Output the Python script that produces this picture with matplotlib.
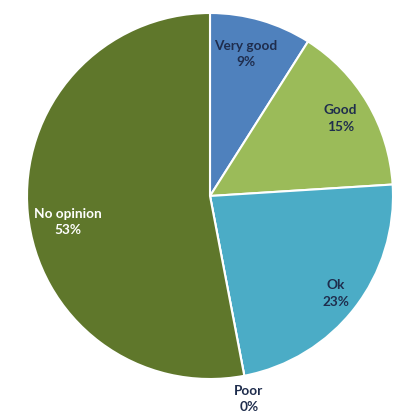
import matplotlib
matplotlib.use("Agg")
import matplotlib.pyplot as plt
import numpy as np

# Survey answers, clockwise from 12 o'clock
labels = ["Very good", "Good", "Ok", "Poor", "No opinion"]
values = [9, 15, 23, 0, 53]
colors = ["#4f81bd", "#9bbb59", "#4bacc6", "#c0504d", "#5f772b"]
text_colors = ["#1f2d4d", "#1f2d4d", "#1f2d4d", "#1f2d4d", "white"]
label_dist = [0.80, 0.83, 0.87, 1.13, 0.79]
label_shift = [2, 0, 0, 0, 5]  # degrees, to mimic Excel's best-fit placement

fig = plt.figure(figsize=(4.04, 4.12), dpi=100)
ax = fig.add_axes([27 / 404, 33 / 412, 366 / 404, 366 / 412])

wedges, _ = ax.pie(values, colors=colors, startangle=90, counterclock=False,
                   radius=1, wedgeprops=dict(edgecolor="white", linewidth=1.5))

for w, lab, v, tc, d, s in zip(wedges, labels, values, text_colors, label_dist, label_shift):
    ang = np.deg2rad((w.theta1 + w.theta2) / 2 + s)
    ax.text(d * np.cos(ang), d * np.sin(ang), f"{lab}\n{v}%", ha="center", va="center",
            color=tc, fontsize=9.8, fontweight="bold", family=["Lato", "DejaVu Sans"],
            linespacing=1.45)

ax.set_xlim(-1, 1)
ax.set_ylim(-1, 1)
ax.set_aspect("equal")
ax.axis("off")

fig.savefig("out.png", dpi=100)
